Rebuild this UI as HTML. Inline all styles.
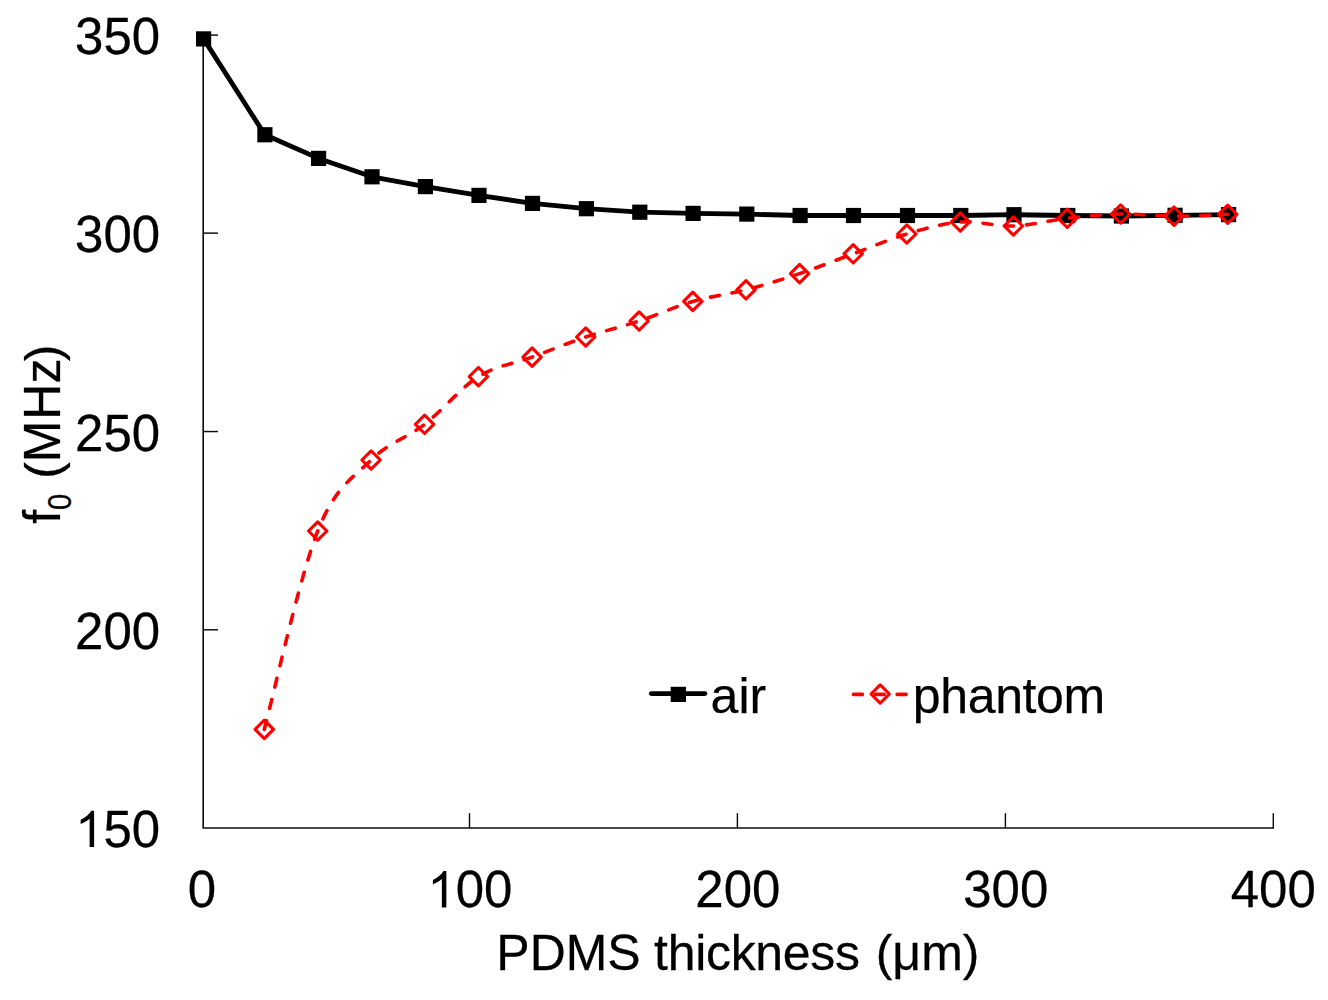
<!DOCTYPE html>
<html><head><meta charset="utf-8"><title>chart</title>
<style>html,body{margin:0;padding:0;background:#fff;}svg{display:block;}text{font-family:"Liberation Sans",sans-serif;fill:#000;stroke:#000;stroke-width:0.25px;}</style></head>
<body>
<svg width="1328" height="1000" viewBox="0 0 1328 1000">
<rect width="1328" height="1000" fill="#fff"/>
<g stroke="#0c0c0c" stroke-width="1.6" fill="none"><path d="M203.20,34.40 V828.00 H1274.00"/></g><g stroke="#0c0c0c" stroke-width="1.45" fill="none"><path d="M469.50,828.00 V813.20"/><path d="M737.40,828.00 V813.20"/><path d="M1005.40,828.00 V813.20"/><path d="M1273.30,828.00 V813.20"/><path d="M203.20,35.10 H218.00"/><path d="M203.20,233.10 H218.00"/><path d="M203.20,431.55 H218.00"/><path d="M203.20,629.80 H218.00"/></g>
<g><text transform="translate(75.11,54.10) scale(1,1.015)" font-size="51">350</text><text transform="translate(75.11,252.10) scale(1,1.015)" font-size="51">300</text><text transform="translate(75.11,450.55) scale(1,1.015)" font-size="51">250</text><text transform="translate(75.11,648.80) scale(1,1.015)" font-size="51">200</text><path transform="translate(75.11,847.00) scale(0.02490,-0.02471)" d="M763,0 H583 V1147 Q518,1085 412.5,1023 Q307,961 223,930 V1104 Q374,1175 487,1276 Q600,1377 647,1472 H763 Z" fill="#000"/><text transform="translate(103.47,847.00) scale(1,1.015)" font-size="51">50</text><text transform="translate(187.82,907.40) scale(1,1.015)" font-size="51">0</text><path transform="translate(427.35,907.40) scale(0.02490,-0.02471)" d="M763,0 H583 V1147 Q518,1085 412.5,1023 Q307,961 223,930 V1104 Q374,1175 487,1276 Q600,1377 647,1472 H763 Z" fill="#000"/><text transform="translate(455.72,907.40) scale(1,1.015)" font-size="51">00</text><text transform="translate(695.35,907.40) scale(1,1.015)" font-size="51">200</text><text transform="translate(963.25,907.40) scale(1,1.015)" font-size="51">300</text><text transform="translate(1230.75,907.40) scale(1,1.015)" font-size="51">400</text></g>
<g font-size="50"><text transform="translate(496.3,970.4) scale(1,1.015)">PDMS</text><text transform="translate(654.1,970.4) scale(1,1.015)" textLength="205.9" lengthAdjust="spacing">thickness</text><text transform="translate(875.7,970.4) scale(1,1.015)">(μm)</text></g>
<g transform="translate(59.7,523.7) rotate(-90) scale(1,1.03)"><text x="0" y="0" font-size="50">f</text><text transform="translate(13.6,10.9) scale(0.97,1.1)" font-size="30">0</text><text transform="translate(44.85,0) scale(1,0.97)" font-size="50">(</text><text x="61.5" y="0" font-size="50">M</text><text x="104.0" y="0" font-size="50">H</text><text x="140.3" y="0" font-size="50">z</text><text transform="translate(162.45,0) scale(1,0.97)" font-size="50">)</text></g>
<path d="M203.60,38.90 L264.90,134.75 L318.60,158.40 L372.00,176.80 L425.40,186.60 L479.00,195.40 L532.50,203.40 L586.40,208.70 L639.80,212.20 L693.10,213.40 L746.80,214.10 L800.10,215.50 L853.50,215.50 L907.50,215.50 L960.80,215.50 L1014.00,214.70 L1067.80,215.50 L1121.40,216.00 L1175.10,215.30 L1228.60,214.60" fill="none" stroke="#000" stroke-width="4.8" stroke-linejoin="round" stroke-linecap="round"/>
<g fill="#000"><rect x="196.00" y="31.30" width="15.2" height="15.2"/><rect x="257.30" y="127.15" width="15.2" height="15.2"/><rect x="311.00" y="150.80" width="15.2" height="15.2"/><rect x="364.40" y="169.20" width="15.2" height="15.2"/><rect x="417.80" y="179.00" width="15.2" height="15.2"/><rect x="471.40" y="187.80" width="15.2" height="15.2"/><rect x="524.90" y="195.80" width="15.2" height="15.2"/><rect x="578.80" y="201.10" width="15.2" height="15.2"/><rect x="632.20" y="204.60" width="15.2" height="15.2"/><rect x="685.50" y="205.80" width="15.2" height="15.2"/><rect x="739.20" y="206.50" width="15.2" height="15.2"/><rect x="792.50" y="207.90" width="15.2" height="15.2"/><rect x="845.90" y="207.90" width="15.2" height="15.2"/><rect x="899.90" y="207.90" width="15.2" height="15.2"/><rect x="953.20" y="207.90" width="15.2" height="15.2"/><rect x="1006.40" y="207.10" width="15.2" height="15.2"/><rect x="1060.20" y="207.90" width="15.2" height="15.2"/><rect x="1113.80" y="208.40" width="15.2" height="15.2"/><rect x="1167.50" y="207.70" width="15.2" height="15.2"/><rect x="1221.00" y="207.00" width="15.2" height="15.2"/></g>
<path d="M264.30,729.40 C273.20,696.33 299.90,575.90 317.70,531.00 C335.50,486.10 353.28,477.78 371.10,460.00 C388.92,442.22 406.72,438.18 424.60,424.30 C442.48,410.42 460.48,387.90 478.40,376.70 C496.32,365.50 514.22,363.72 532.10,357.10 C549.98,350.48 567.87,343.02 585.70,337.00 C603.53,330.98 621.25,326.93 639.10,321.00 C656.95,315.07 674.98,306.60 692.80,301.40 C710.62,296.20 728.20,294.43 746.00,289.80 C763.80,285.17 781.73,279.60 799.60,273.60 C817.47,267.60 835.33,260.40 853.20,253.80 C871.07,247.20 888.95,239.30 906.80,234.00 C924.65,228.70 942.53,223.33 960.30,222.00 C978.07,220.67 995.57,226.62 1013.40,226.00 C1031.23,225.38 1049.43,220.30 1067.30,218.30 C1085.17,216.30 1102.82,214.35 1120.60,214.00 C1138.38,213.65 1156.15,216.15 1174.00,216.20 C1191.85,216.25 1218.75,214.62 1227.70,214.30" fill="none" stroke="#fe0000" stroke-width="3.6" stroke-linecap="round" stroke-linejoin="round" stroke-dasharray="9 12.86"/>
<g fill="none" stroke="#fe0000" stroke-width="3.1" stroke-linejoin="round"><path d="M264.30,720.20 L273.50,729.40 L264.30,738.60 L255.10,729.40 Z"/><path d="M317.70,521.80 L326.90,531.00 L317.70,540.20 L308.50,531.00 Z"/><path d="M371.10,450.80 L380.30,460.00 L371.10,469.20 L361.90,460.00 Z"/><path d="M424.60,415.10 L433.80,424.30 L424.60,433.50 L415.40,424.30 Z"/><path d="M478.40,367.50 L487.60,376.70 L478.40,385.90 L469.20,376.70 Z"/><path d="M532.10,347.90 L541.30,357.10 L532.10,366.30 L522.90,357.10 Z"/><path d="M585.70,327.80 L594.90,337.00 L585.70,346.20 L576.50,337.00 Z"/><path d="M639.10,311.80 L648.30,321.00 L639.10,330.20 L629.90,321.00 Z"/><path d="M692.80,292.20 L702.00,301.40 L692.80,310.60 L683.60,301.40 Z"/><path d="M746.00,280.60 L755.20,289.80 L746.00,299.00 L736.80,289.80 Z"/><path d="M799.60,264.40 L808.80,273.60 L799.60,282.80 L790.40,273.60 Z"/><path d="M853.20,244.60 L862.40,253.80 L853.20,263.00 L844.00,253.80 Z"/><path d="M906.80,224.80 L916.00,234.00 L906.80,243.20 L897.60,234.00 Z"/><path d="M960.30,212.80 L969.50,222.00 L960.30,231.20 L951.10,222.00 Z"/><path d="M1013.40,216.80 L1022.60,226.00 L1013.40,235.20 L1004.20,226.00 Z"/><path d="M1067.30,209.10 L1076.50,218.30 L1067.30,227.50 L1058.10,218.30 Z"/><path d="M1120.60,204.80 L1129.80,214.00 L1120.60,223.20 L1111.40,214.00 Z"/><path d="M1174.00,207.00 L1183.20,216.20 L1174.00,225.40 L1164.80,216.20 Z"/><path d="M1227.70,205.10 L1236.90,214.30 L1227.70,223.50 L1218.50,214.30 Z"/></g>
<path d="M651.3,693.6 H704.9" stroke="#000" stroke-width="4.8" stroke-linecap="round" fill="none"/><rect x="670.7" y="686.8" width="15.3" height="15.2" fill="#000"/><text x="710.6" y="713" font-size="50">air</text><path d="M853.4,694.4 H908" stroke="#fe0000" stroke-width="3.6" stroke-linecap="round" stroke-dasharray="9 12.86" fill="none"/><g fill="none" stroke="#fe0000" stroke-width="3.1" stroke-linejoin="round"><path d="M880.20,684.80 L889.40,694.00 L880.20,703.20 L871.00,694.00 Z"/></g><text x="912.8" y="713" font-size="50" textLength="192.4" lengthAdjust="spacing">phantom</text>
</svg></body></html>
